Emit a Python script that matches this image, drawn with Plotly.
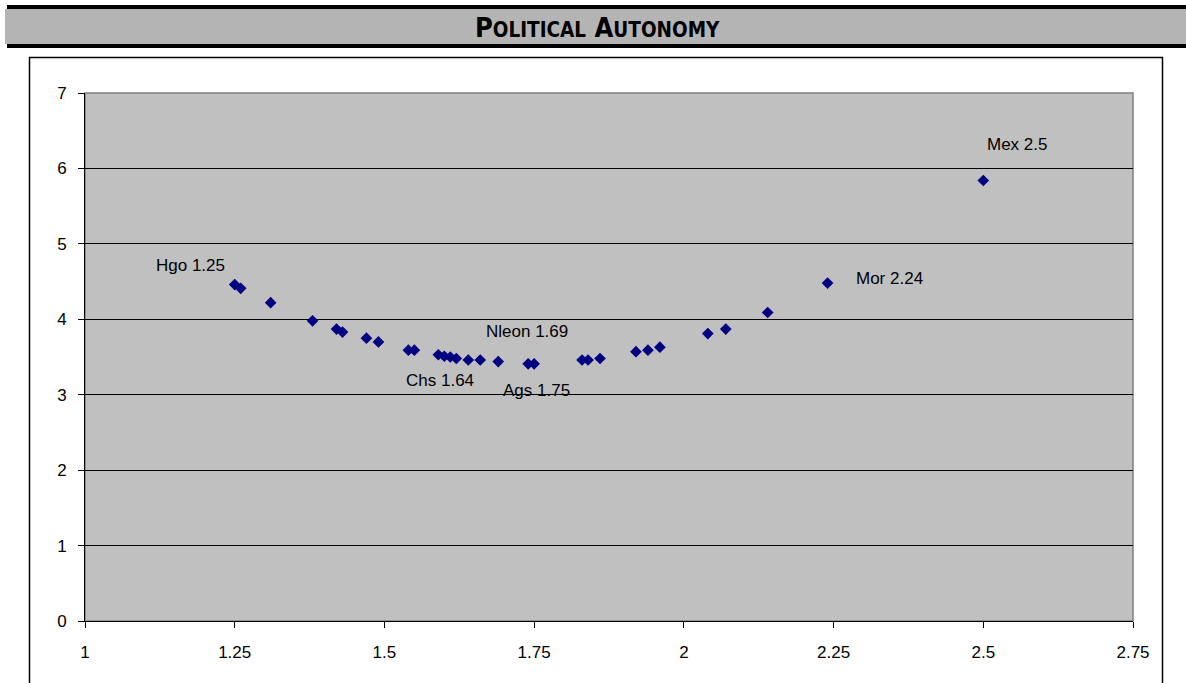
import plotly.graph_objects as go

# Political autonomy index (x) against the fitted score (y), one point per state
autonomy = [1.25, 1.26, 1.31, 1.38, 1.42, 1.43, 1.47, 1.49, 1.54, 1.55,
            1.59, 1.60, 1.61, 1.62, 1.64, 1.66, 1.69, 1.74, 1.75, 1.83,
            1.84, 1.86, 1.92, 1.94, 1.96, 2.04, 2.07, 2.14, 2.24, 2.5]
score = [4.46, 4.41, 4.22, 3.98, 3.87, 3.83, 3.75, 3.70, 3.59, 3.59,
         3.53, 3.51, 3.50, 3.48, 3.46, 3.46, 3.44, 3.41, 3.41, 3.46,
         3.46, 3.48, 3.57, 3.59, 3.63, 3.81, 3.87, 4.09, 4.48, 5.84]
state = {0: "Hgo", 14: "Chs", 16: "Nleon", 18: "Ags", 28: "Mor", 29: "Mex"}

x_ticks = [1, 1.25, 1.5, 1.75, 2, 2.25, 2.5, 2.75]
y_ticks = [0, 1, 2, 3, 4, 5, 6, 7]
title_words = ["POLITICAL", "AUTONOMY"]

# page geometry (pixels)
W, H = 1186, 683
L, R, T, B = 85, 1133, 93, 621
FONT = "Liberation Sans, Arial, sans-serif"


def px(xp):
    return (xp - L) / (R - L)


def py(yp):
    return (B - yp) / (B - T)


# label placement relative to each marker: (xanchor, xshift, yshift)
label_pos = {
    "Hgo": ("right", -8, 19),
    "Chs": ("center", -28, -20),
    "Nleon": ("center", 29, 30),
    "Ags": ("center", 2, -27),
    "Mor": ("left", 26, 5),
    "Mex": ("left", 2, 36),
}

fig = go.Figure()
fig.add_trace(go.Scatter(
    x=autonomy, y=score, mode="markers",
    marker=dict(symbol="diamond", size=9, color="#000080",
                line=dict(width=0)),
    hoverinfo="x+y", showlegend=False,
))

annotations = []
for i, name in state.items():
    anchor, dx, dy = label_pos[name]
    annotations.append(dict(
        x=autonomy[i], y=score[i], xref="x", yref="y",
        text=f"{name} {autonomy[i]:g}", showarrow=False,
        xanchor=anchor, yanchor="middle", xshift=dx, yshift=dy,
        font=dict(family=FONT, size=17, color="#000000"),
    ))

# small-caps banner title
small = '<span style="font-size:20.5px">{}</span>'
title_html = "<b>" + " ".join(w[0] + small.format(w[1:]) for w in title_words) + "</b>"
annotations.append(dict(
    x=px(597), y=py(27), xref="paper", yref="paper",
    text=title_html, showarrow=False, xanchor="center", yanchor="middle",
    font=dict(family="Liberation Sans Narrow, Arial Narrow, DejaVu Sans Condensed, sans-serif",
              size=27, color="#000000"),
))

shapes = [
    # banner
    dict(type="rect", xref="paper", yref="paper", x0=px(5), x1=px(W), y0=py(9), y1=py(44),
         fillcolor="#b4b4b4", line=dict(width=0), layer="below"),
    dict(type="rect", xref="paper", yref="paper", x0=px(7), x1=px(W), y0=py(5), y1=py(9),
         fillcolor="#000000", line=dict(width=0), layer="below"),
    dict(type="rect", xref="paper", yref="paper", x0=px(7), x1=px(W), y0=py(44), y1=py(48),
         fillcolor="#000000", line=dict(width=0), layer="below"),
    # chart frame
    dict(type="rect", xref="paper", yref="paper", x0=px(29.5), x1=px(1162.5), y0=py(57.5), y1=py(H + 10),
         fillcolor="rgba(0,0,0,0)", line=dict(color="#000000", width=1.5), layer="below"),
    # plot-area border
    dict(type="rect", xref="paper", yref="paper", x0=0, x1=1, y0=0, y1=1,
         fillcolor="rgba(0,0,0,0)", line=dict(color="#808080", width=1.5), layer="below"),
]

fig.update_layout(
    width=W, height=H,
    margin=dict(l=L, r=W - R, t=T, b=H - B, pad=0),
    paper_bgcolor="#ffffff", plot_bgcolor="#c0c0c0",
    font=dict(family=FONT, size=17, color="#000000"),
    annotations=annotations, shapes=shapes,
    xaxis=dict(range=[1, 2.75], tickvals=x_ticks, ticktext=[f"{v:g}" for v in x_ticks],
               showgrid=False, zeroline=False, showline=True, linecolor="#000000", linewidth=1,
               ticks="outside", ticklen=6, tickcolor="#000000", ticklabelstandoff=10,
               tickfont=dict(family=FONT, size=17)),
    yaxis=dict(range=[0, 7], tickvals=y_ticks, showgrid=True, gridcolor="#000000", gridwidth=1,
               zeroline=False, showline=True, linecolor="#000000", linewidth=1,
               ticks="outside", ticklen=6, tickcolor="#000000", ticklabelstandoff=8,
               tickfont=dict(family=FONT, size=17)),
)

fig.write_html("out.html")
